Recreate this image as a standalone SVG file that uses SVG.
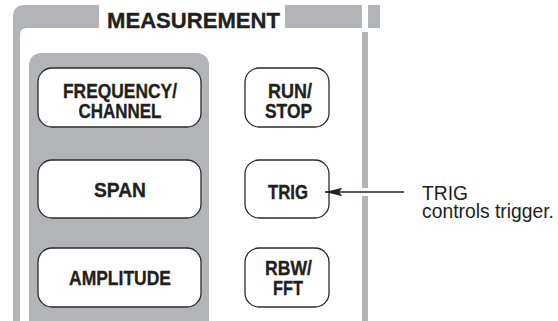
<svg xmlns="http://www.w3.org/2000/svg" width="558" height="321" viewBox="0 0 558 321">
<style>
.band{fill:#b3b4b7}
.btn{fill:#ffffff;stroke:#2b2b2b;stroke-width:1.3}
.bt{font-family:"Liberation Sans",Arial,sans-serif;font-weight:bold;font-size:20px;fill:#231f20;stroke:#231f20;stroke-width:0.35;text-anchor:middle}
.lbl{font-family:"Liberation Sans",Arial,sans-serif;font-size:21px;fill:#231f20}
</style>
<defs>
<marker id="ah" viewBox="0 0 18 10" refX="17.5" refY="5" markerWidth="18" markerHeight="10" markerUnits="userSpaceOnUse" orient="auto">
<path d="M18,5 L0,0.8 L3.5,5 L0,9.2 Z" fill="#231f20"/>
</marker>
</defs>
<g id="frame">
<path class="band" d="M13,321 V17 Q13,5 25,5 H99 V28 H27 Q20,28 20,35 V321 Z"/>
<rect class="band" x="285" y="5" width="77" height="23"/>
<rect class="band" x="368" y="5" width="12" height="23"/>
<rect class="band" x="362" y="32" width="6" height="156"/>
<rect class="band" x="362" y="196" width="6" height="125"/>
<text x="107" y="27.5" font-family="'Liberation Sans',Arial,sans-serif" font-weight="bold" font-size="22" fill="#231f20" stroke="#231f20" stroke-width="0.35" textLength="173" lengthAdjust="spacingAndGlyphs">MEASUREMENT</text>
</g>
<g id="panel">
<rect class="band" x="29" y="53" width="180" height="290" rx="12"/>
</g>
<g id="freq">
<rect class="btn" x="38" y="68" width="163" height="59" rx="14"/>
<text class="bt" x="120" y="98" textLength="114" lengthAdjust="spacingAndGlyphs">FREQUENCY/</text>
<text class="bt" x="120" y="117.5" textLength="83" lengthAdjust="spacingAndGlyphs">CHANNEL</text>
</g>
<g id="span">
<rect class="btn" x="38" y="160" width="163" height="58" rx="14"/>
<text class="bt" x="120" y="197" textLength="52" lengthAdjust="spacingAndGlyphs">SPAN</text>
</g>
<g id="amplitude">
<rect class="btn" x="38" y="248" width="163" height="59" rx="14"/>
<text class="bt" x="120" y="285" textLength="102" lengthAdjust="spacingAndGlyphs">AMPLITUDE</text>
</g>
<g id="runstop">
<rect class="btn" x="245" y="68" width="84" height="59" rx="14"/>
<text class="bt" x="290" y="98" textLength="44" lengthAdjust="spacingAndGlyphs">RUN/</text>
<text class="bt" x="288.5" y="118" textLength="47" lengthAdjust="spacingAndGlyphs">STOP</text>
</g>
<g id="trig">
<rect class="btn" x="245" y="160" width="84" height="58" rx="14"/>
<text class="bt" x="288" y="199" textLength="40" lengthAdjust="spacingAndGlyphs">TRIG</text>
</g>
<g id="rbw">
<rect class="btn" x="245" y="248" width="84" height="59" rx="14"/>
<text class="bt" x="288.5" y="275" textLength="47" lengthAdjust="spacingAndGlyphs">RBW/</text>
<text class="bt" x="288" y="295" textLength="30" lengthAdjust="spacingAndGlyphs">FFT</text>
</g>
<g id="connectors">
<line x1="404" y1="192" x2="325" y2="192" stroke="#231f20" stroke-width="1.3" marker-end="url(#ah)"/>
</g>
<g id="note">
<text class="lbl" x="422" y="199.5" textLength="46" lengthAdjust="spacingAndGlyphs">TRIG</text>
<text class="lbl" x="422" y="218" textLength="132" lengthAdjust="spacingAndGlyphs">controls trigger.</text>
</g>
</svg>
